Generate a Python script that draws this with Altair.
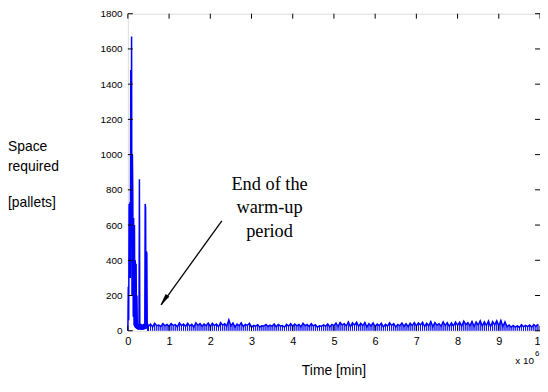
import altair as alt
import pandas as pd

# ---- data (time in 10^6 min, space in pallets) ----
warm_time = [0.00, 0.01, 0.02, 0.03, 0.04, 0.05, 0.06, 0.07, 0.08, 0.09, 0.10,
             0.11, 0.12, 0.13, 0.14, 0.15, 0.16, 0.17, 0.18, 0.19, 0.20, 0.21,
             0.22, 0.23, 0.24, 0.25, 0.26, 0.27, 0.28, 0.29, 0.30, 0.31, 0.32,
             0.33, 0.34, 0.35, 0.36, 0.37, 0.38, 0.39, 0.40, 0.41, 0.42, 0.43,
             0.44, 0.45, 0.46, 0.47, 0.48, 0.49]
warm_space = [0, 250, 60, 720, 650, 730, 300, 1480, 760, 1670, 200,
              1000, 770, 80, 640, 30, 600, 20, 400, 15, 380, 10,
              200, 10, 30, 5, 40, 10, 860, 5, 30, 10, 40,
              5, 35, 10, 30, 5, 40, 10, 35, 8, 720, 700, 10, 450, 440, 15, 40, 10]

steady_start = 0.5
steady_step = 0.1
steady_high = [38, 42, 32, 40, 36,
               40, 35, 44, 38, 42, 36, 45, 40, 38, 43,
               42, 38, 46, 40, 62, 44, 38, 45, 36, 42,
               30, 34, 28, 36, 32, 38, 35, 30, 36, 40,
               38, 35, 42, 36, 40, 34, 28, 33, 38, 36,
               44, 46, 40, 50, 45, 48, 42, 47, 40, 44,
               38, 42, 36, 45, 40, 36, 44, 40, 42, 46,
               44, 48, 42, 52, 46, 40, 50, 46, 44, 50,
               48, 54, 46, 52, 50, 56, 50, 55, 52, 56,
               58, 50, 32, 30, 28, 34, 30, 32, 35, 36]
steady_low = [26, 22, 29, 24, 28,
              25, 30, 22, 29, 24, 27, 21, 30, 25, 28,
              24, 29, 22, 31, 26, 27, 21, 28, 24, 30,
              20, 26, 21, 27, 24, 25, 22, 27, 20, 26,
              25, 28, 22, 28, 24, 27, 20, 26, 25, 22,
              29, 24, 32, 27, 23, 31, 25, 28, 22, 27,
              24, 29, 22, 26, 30, 21, 28, 25, 23, 29,
              27, 32, 24, 28, 23, 31, 25, 29, 24, 27,
              31, 25, 34, 28, 24, 32, 27, 29, 23, 33,
              28, 24, 22, 20, 21, 19, 22, 23, 20, 24]

y_ticks = [0, 200, 400, 600, 800, 1000, 1200, 1400, 1600, 1800]
x_ticks = [0, 1, 2, 3, 4, 5, 6, 7, 8, 9, 10]

arrow_from = (2.28, 624)
arrow_to = (0.81, 147)
arrow_head = (0.875, 173)

# ---- build tables ----
t_vals = list(warm_time)
s_vals = list(warm_space)
for i, (lo, hi) in enumerate(zip(steady_low, steady_high)):
    t0 = steady_start + i * steady_step
    t_vals += [t0, t0 + steady_step / 2]
    s_vals += [lo, hi]
df = pd.DataFrame({"t": t_vals, "s": s_vals})
df["z"] = 0
df_steady = df[df["t"] >= steady_start - 0.02].reset_index(drop=True)

W, H = 416, 320
xs = alt.Scale(domain=[0, 10], nice=False)
ys = alt.Scale(domain=[0, 1800], nice=False)
FONT = "Liberation Sans"
BLUE = "#0000ff"

ax_x = alt.Axis(values=x_ticks, ticks=False, labelFontSize=11, labelFont=FONT,
                labelColor="black", labelPadding=5, grid=False, domain=False,
                labelFlush=False, labelOverlap=False, title=None, format="d")
ax_y = alt.Axis(values=y_ticks, ticks=False, labelFontSize=10, labelFont=FONT,
                labelColor="black", labelPadding=6, grid=False, domain=False,
                labelFlush=False, labelOverlap=False, title=None, format="d")

def X(field):
    return alt.X(field, scale=xs, axis=ax_x, title=None)

def Y(field):
    return alt.Y(field, scale=ys, axis=ax_y, title=None, stack=None)

band = alt.Chart(df_steady).mark_area(
    fill=BLUE, stroke=BLUE, strokeWidth=0.8, fillOpacity=1, opacity=1,
    orient="vertical").encode(
    x=X("t:Q"), y=Y("s:Q"), y2="z:Q", order="t:Q")
line = alt.Chart(df).mark_line(color=BLUE, strokeWidth=1.5).encode(
    x=X("t:Q"), y=Y("s:Q"), order="t:Q")

ydf = pd.DataFrame({"v": y_ticks})
xdf = pd.DataFrame({"v": x_ticks})
tick_left = alt.Chart(ydf).mark_rule(color="black").encode(
    y=Y("v:Q"), x=alt.value(0), x2=alt.value(5))
tick_right = alt.Chart(ydf).mark_rule(color="black").encode(
    y=Y("v:Q"), x=alt.value(W - 5), x2=alt.value(W))
tick_bottom = alt.Chart(xdf).mark_rule(color="black").encode(
    x=X("v:Q"), y=alt.value(H), y2=alt.value(H - 5))
tick_top = alt.Chart(xdf).mark_rule(color="black").encode(
    x=X("v:Q"), y=alt.value(0), y2=alt.value(5))

adf = pd.DataFrame({"x": [arrow_from[0]], "y": [arrow_from[1]],
                    "x2": [arrow_to[0]], "y2": [arrow_to[1]]})
arrow = alt.Chart(adf).mark_rule(color="black", strokeWidth=1.3).encode(
    x=X("x:Q"), y=Y("y:Q"), x2="x2:Q", y2="y2:Q")
hdf = pd.DataFrame({"x": [arrow_head[0]], "y": [arrow_head[1]]})
head = alt.Chart(hdf).mark_point(
    shape="M0,-1L-0.38,1L0.38,1Z", filled=True, color="black", opacity=1,
    size=150, angle=216).encode(x=X("x:Q"), y=Y("y:Q"))

def label(text, x, y, size=14, font=FONT, align="left"):
    return alt.Chart(pd.DataFrame({"a": [0]})).mark_text(
        text=text, font=font, fontSize=size, align=align, baseline="middle",
        color="black").encode(x=alt.value(x), y=alt.value(y))

SERIF = "Liberation Serif"
texts = [
    label("Space", -121, 135),
    label("required", -121, 155),
    label("[pallets]", -121, 191),
    label("Time [min]", W / 2, 361, size=14, align="center"),
    label("x 10", 410, 351, size=10, align="right"),
    label("6", 411, 344, size=8),
    label("End of the", 143, 172, size=18.5, font=SERIF, align="center"),
    label("warm-up", 143, 195, size=18.5, font=SERIF, align="center"),
    label("period", 143, 219, size=18.5, font=SERIF, align="center"),
]

chart = alt.layer(band, line, tick_left, tick_right, tick_bottom, tick_top,
                  arrow, head, *texts).properties(
    width=W, height=H,
    autosize=alt.AutoSizeParams(type="none"),
    padding={"left": 121, "top": 4, "right": 0, "bottom": 52},
).configure_view(stroke="black", strokeWidth=1).configure(background="white")

chart.save("out.html", embed_options={"renderer": "svg", "actions": False})
